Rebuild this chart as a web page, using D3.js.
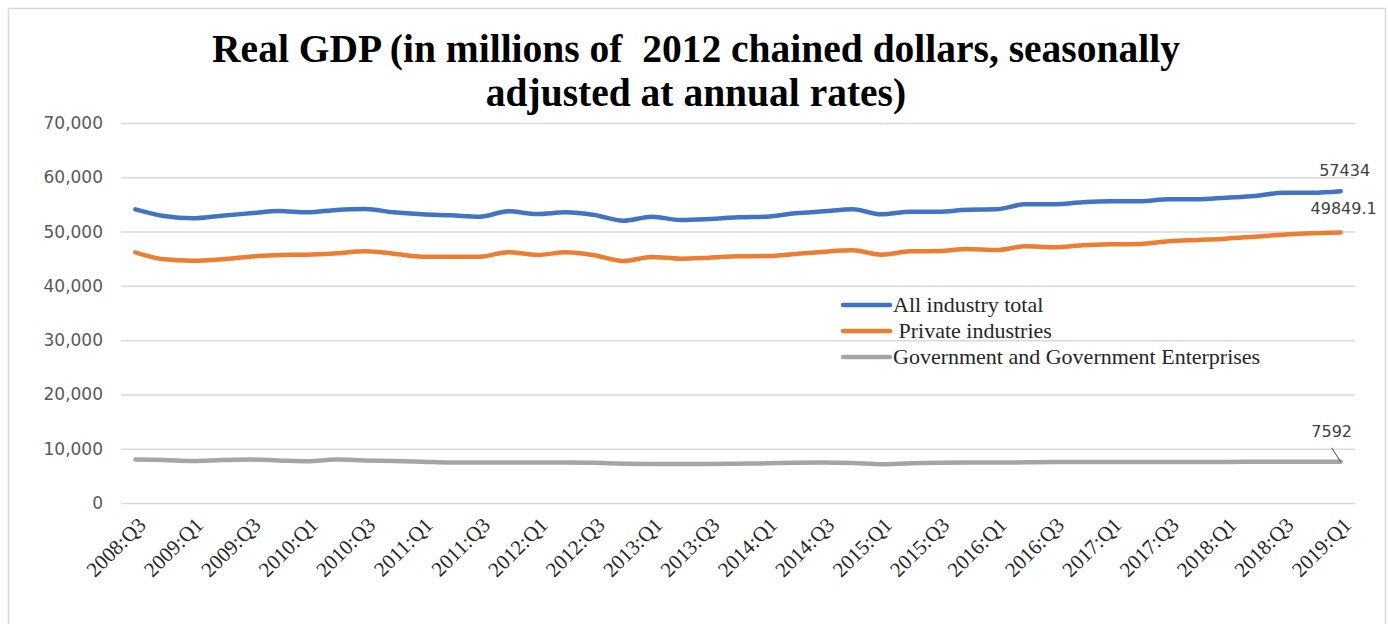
<!DOCTYPE html>
<html>
<head>
<meta charset="utf-8">
<script src="https://cdn.jsdelivr.net/npm/d3@7"></script>
<style>
  body { margin: 0; background: #fff; }
  svg { display: block; }
  text { white-space: pre; }
</style>
</head>
<body>
<svg id="chart" width="1388" height="624"></svg>
<script>
// quarters shown on the x axis
var quarters = [
  "2008:Q3", "2008:Q4",
  "2009:Q1", "2009:Q2", "2009:Q3", "2009:Q4",
  "2010:Q1", "2010:Q2", "2010:Q3", "2010:Q4",
  "2011:Q1", "2011:Q2", "2011:Q3", "2011:Q4",
  "2012:Q1", "2012:Q2", "2012:Q3", "2012:Q4",
  "2013:Q1", "2013:Q2", "2013:Q3", "2013:Q4",
  "2014:Q1", "2014:Q2", "2014:Q3", "2014:Q4",
  "2015:Q1", "2015:Q2", "2015:Q3", "2015:Q4",
  "2016:Q1", "2016:Q2", "2016:Q3", "2016:Q4",
  "2017:Q1", "2017:Q2", "2017:Q3", "2017:Q4",
  "2018:Q1", "2018:Q2", "2018:Q3", "2018:Q4",
  "2019:Q1"
];

var allIndustry = [
  54100, 52870, 52440, 52920, 53360, 53790, 53540, 53970, 54150, 53540,
  53170, 52990, 52740, 53730, 53230, 53540, 53050, 52000, 52740, 52130,
  52310, 52620, 52740, 53360, 53730, 54100, 53170, 53670, 53670, 54030,
  54100, 55020, 55020, 55390, 55570, 55570, 55940, 55940, 56240, 56550,
  57160, 57160, 57434
];

var privateInd = [
  46180, 44890, 44630, 44890, 45380, 45690, 45750, 46000, 46360, 45930,
  45380, 45380, 45380, 46200, 45690, 46180, 45630, 44580, 45320, 45010,
  45200, 45440, 45500, 45870, 46300, 46550, 45750, 46360, 46420, 46790,
  46600, 47280, 47100, 47470, 47650, 47710, 48200, 48450, 48690, 49060,
  49430, 49680, 49849.1
];

var government = [
  8000, 7900, 7750, 7900, 8000, 7850, 7700, 8000, 7850, 7750,
  7600, 7450, 7450, 7450, 7450, 7450, 7400, 7250, 7200, 7200,
  7200, 7250, 7300, 7400, 7450, 7350, 7150, 7300, 7400, 7450,
  7450, 7500, 7550, 7550, 7550, 7550, 7550, 7560, 7570, 7580,
  7580, 7590, 7592
];

var seriesNames = ["All industry total", " Private industries", "Government and Government Enterprises"];
var seriesColors = ["#4472C4", "#ED7D31", "#A5A5A5"];
var yTicks = [0, 10000, 20000, 30000, 40000, 50000, 60000, 70000];

///////////////////////////////////////////////////////////////////////////////

var svg = d3.select("#chart");

svg.append("rect")
  .attr("x", 8.5).attr("y", 8.5)
  .attr("width", 1377).attr("height", 640)
  .attr("fill", "#fff")
  .attr("stroke", "#d9d9d9")
  .attr("stroke-width", 1.5);

var x = d3.scalePoint().domain(quarters).range([121, 1355]).padding(0.5);
var y = d3.scaleLinear().domain([0, 70000]).range([503, 123]);

// y axis doubles as the gridlines
var yAxis = svg.append("g")
  .attr("transform", "translate(121,0)")
  .call(d3.axisLeft(y).tickValues(yTicks).tickSize(-(1355 - 121))
    .tickPadding(18).tickFormat(d3.format(",")));
yAxis.select(".domain").remove();
yAxis.selectAll(".tick line").attr("stroke", "#d9d9d9").attr("stroke-width", 1.5);
yAxis.selectAll(".tick text")
  .attr("fill", "#595959")
  .style("font-family", "'DejaVu Sans', sans-serif")
  .style("font-size", "17px");

var xAxis = svg.append("g")
  .attr("transform", "translate(0,503)")
  .call(d3.axisBottom(x)
    .tickValues(quarters.filter(function (d, i) { return i % 2 === 0; }))
    .tickSize(0));
xAxis.select(".domain").remove();
xAxis.selectAll(".tick text")
  .attr("x", 0).attr("y", 0).attr("dy", "0.35em")
  .attr("text-anchor", "end")
  .attr("transform", "translate(6,18) rotate(-45)")
  .attr("fill", "#262626")
  .style("font-family", "'Liberation Serif', serif")
  .style("font-size", "21px");

// lines
var allSeries = [allIndustry, privateInd, government];
var line = d3.line()
  .x(function (d, i) { return x(quarters[i]); })
  .y(function (d) { return y(d); })
  .curve(d3.curveMonotoneX);

svg.selectAll("path.series")
  .data(allSeries)
  .enter().append("path")
  .attr("class", "series")
  .attr("d", line)
  .attr("fill", "none")
  .attr("stroke", function (d, i) { return seriesColors[i]; })
  .attr("stroke-width", 4.5)
  .attr("stroke-linejoin", "round")
  .attr("stroke-linecap", "round");

// end-of-series value labels
var last = quarters[quarters.length - 1];
var labelFont = function (sel) {
  sel.attr("fill", "#404040")
    .style("font-family", "'DejaVu Sans', sans-serif")
    .style("font-size", "16px");
};

svg.append("text")
  .attr("x", x(last) + 4).attr("y", y(allIndustry[allIndustry.length - 1]) - 15)
  .attr("text-anchor", "middle")
  .text("57434").call(labelFont);

svg.append("text")
  .attr("x", x(last) + 3).attr("y", y(privateInd[privateInd.length - 1]) - 18)
  .attr("text-anchor", "middle")
  .text("49849.1").call(labelFont);

var gLast = government[government.length - 1];
svg.append("line")
  .attr("x1", x(last)).attr("y1", y(gLast))
  .attr("x2", x(last) - 9).attr("y2", y(gLast) - 14)
  .attr("stroke", "#404040").attr("stroke-width", 1);
svg.append("text")
  .attr("x", x(last) - 9).attr("y", y(gLast) - 25)
  .attr("text-anchor", "middle")
  .text("7592").call(labelFont);

// legend
var legend = svg.append("g").attr("transform", "translate(843,305)");
seriesNames.forEach(function (name, i) {
  var row = legend.append("g").attr("transform", "translate(0," + (i * 26) + ")");
  row.append("line")
    .attr("x1", 0).attr("x2", 47)
    .attr("stroke", seriesColors[i])
    .attr("stroke-width", 4.5)
    .attr("stroke-linecap", "round");
  row.append("text")
    .attr("x", 50).attr("dy", "0.32em")
    .attr("fill", "#262626")
    .style("font-family", "'Liberation Serif', serif")
    .style("font-size", "22px")
    .text(name);
});

// title
var title = svg.append("text")
  .attr("text-anchor", "middle")
  .attr("fill", "#000")
  .style("font-family", "'Liberation Serif', serif")
  .style("font-size", "39.5px")
  .style("font-weight", "bold");
title.append("tspan").attr("x", 696).attr("y", 62)
  .text("Real GDP (in millions of  2012 chained dollars, seasonally");
title.append("tspan").attr("x", 696).attr("y", 106)
  .text("adjusted at annual rates)");
</script>
</body>
</html>
